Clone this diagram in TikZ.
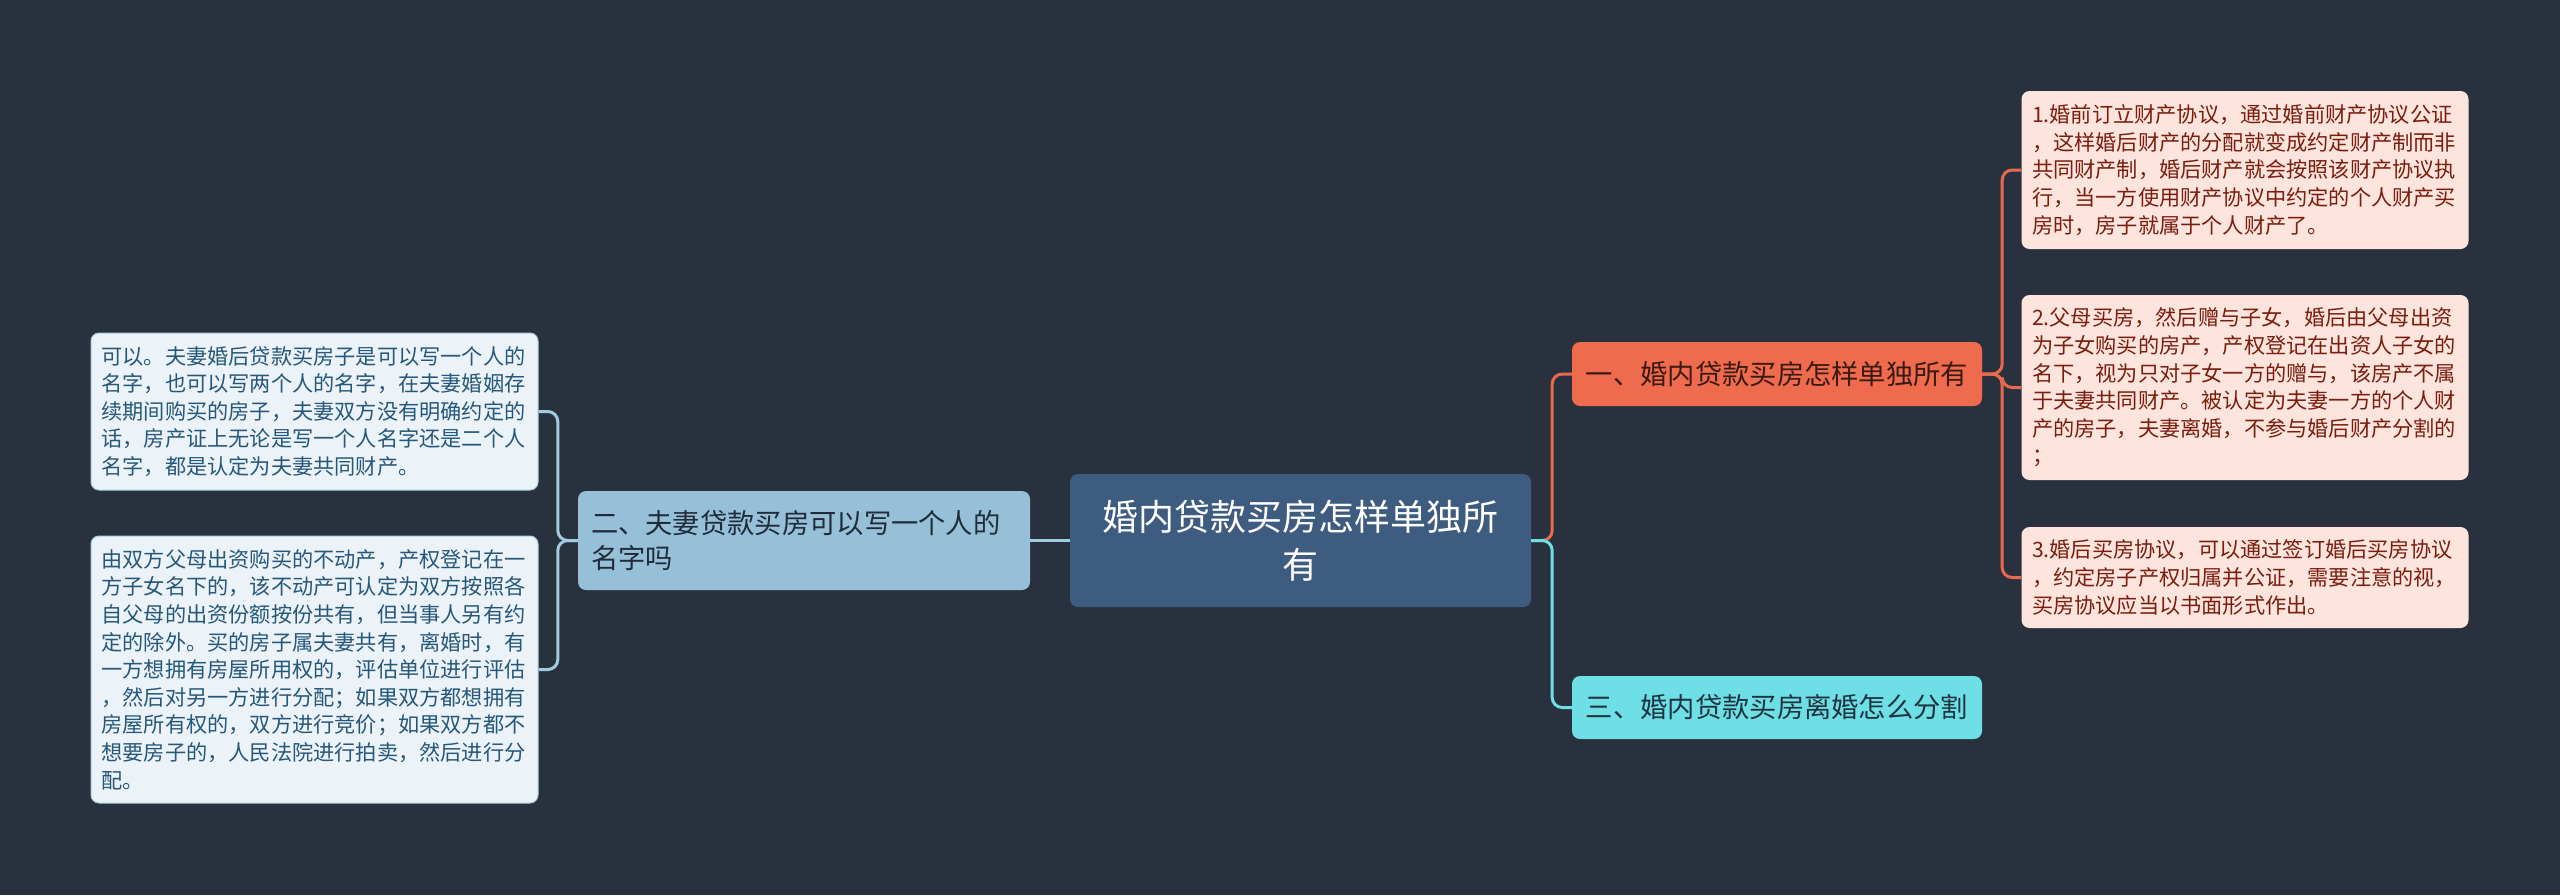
\documentclass[tikz,border=0pt]{standalone}
\usepackage{fontspec}
\setmainfont{Noto Sans CJK SC}
\definecolor{bg}{HTML}{29313F}
\definecolor{rootfill}{HTML}{3E5B80}
\definecolor{bluefill}{HTML}{96BFD8}
\definecolor{bluetext}{HTML}{1F2C3A}
\definecolor{leafLfill}{HTML}{ECF3F8}
\definecolor{leafLdraw}{HTML}{A9CDE2}
\definecolor{leafLtext}{HTML}{25587A}
\definecolor{orangefill}{HTML}{EE6B4D}
\definecolor{orangetext}{HTML}{3B1A12}
\definecolor{leafRfill}{HTML}{FDE4DD}
\definecolor{leafRtext}{HTML}{7A1D0E}
\definecolor{cyanfill}{HTML}{6DDFE5}
\definecolor{cyantext}{HTML}{1F3440}
\definecolor{connblue}{HTML}{9FCBE3}
\definecolor{connorange}{HTML}{E9694C}
\definecolor{conncyan}{HTML}{6DDFE5}
\begin{document}
\begin{tikzpicture}[x=1pt,y=-1pt,
  box/.style={rounded corners=8pt, inner ysep=0pt},
  leaf/.style={box, align=left, text width=426pt, inner xsep=10.5pt,
    font=\fontsize{21.2pt}{27.6pt}\selectfont},
  leafL/.style={leaf, fill=leafLfill, draw=leafLdraw, line width=1pt, text=leafLtext},
  leafR/.style={leaf, fill=leafRfill, text=leafRtext},
  rootbox/.style={box, fill=rootfill, text=white, align=center, text width=435pt,
    inner xsep=13pt, minimum height=133pt, font=\fontsize{36pt}{48pt}\selectfont},
  branch/.style={box, inner xsep=13pt, font=\fontsize{27.3pt}{35pt}\selectfont},
  conn/.style={line width=3pt, rounded corners=10pt}
]
\fill[bg] (0,0) rectangle (2560,895);
\useasboundingbox (0,0) rectangle (2560,895);

\node[rootbox] (root) at (1300.5,540.5) {婚内贷款买房怎样单独所\\有};

\node[branch, fill=bluefill, text=bluetext, align=left, text width=426pt, minimum height=99pt] (b2) at (804,540.5)
  {二、夫妻贷款买房可以写一个人的\\名字吗};
\node[branch, fill=orangefill, text=orangetext, minimum width=410pt, minimum height=64pt] (b1) at (1777,374)
  {一、婚内贷款买房怎样单独所有};
\node[branch, fill=cyanfill, text=cyantext, minimum width=410pt, minimum height=63pt] (b3) at (1777,707.5)
  {三、婚内贷款买房离婚怎么分割};

\node[leafL, minimum height=157pt] (l1) at (314.5,411.5)
  {可以。夫妻婚后贷款买房子是可以写一个人的\\名字，也可以写两个人的名字，在夫妻婚姻存\\续期间购买的房子，夫妻双方没有明确约定的\\话，房产证上无论是写一个人名字还是二个人\\名字，都是认定为夫妻共同财产。};
\node[leafL, minimum height=267pt] (l2) at (314.5,669.5)
  {由双方父母出资购买的不动产，产权登记在一\\方子女名下的，该不动产可认定为双方按照各\\自父母的出资份额按份共有，但当事人另有约\\定的除外。买的房子属夫妻共有，离婚时，有\\一方想拥有房屋所用权的，评估单位进行评估\\，然后对另一方进行分配；如果双方都想拥有\\房屋所有权的，双方进行竞价；如果双方都不\\想要房子的，人民法院进行拍卖，然后进行分\\配。};

\node[leafR, minimum height=158pt] (r1) at (2245,170)
  {1.婚前订立财产协议，通过婚前财产协议公证\\，这样婚后财产的分配就变成约定财产制而非\\共同财产制，婚后财产就会按照该财产协议执\\行，当一方使用财产协议中约定的个人财产买\\房时，房子就属于个人财产了。};
\node[leafR, minimum height=185pt] (r2) at (2245,387.5)
  {2.父母买房，然后赠与子女，婚后由父母出资\\为子女购买的房产，产权登记在出资人子女的\\名下，视为只对子女一方的赠与，该房产不属\\于夫妻共同财产。被认定为夫妻一方的个人财\\产的房子，夫妻离婚，不参与婚后财产分割的\\；};
\node[leafR, minimum height=101pt] (r3) at (2245,577.5)
  {3.婚后买房协议，可以通过签订婚后买房协议\\，约定房子产权归属并公证，需要注意的视，\\买房协议应当以书面形式作出。};

% connectors
\draw[conn, connblue] (root.west) -- (b2.east);
\draw[conn, connblue] (b2.west) -- ++(-20,0) |- (l1.east);
\draw[conn, connblue] (b2.west) -- ++(-20,0) |- (l2.east);
\draw[conn, connorange] (root.east) -- ++(21,0) |- (b1.west);
\draw[conn, conncyan] (root.east) -- ++(21,0) |- (b3.west);
\draw[conn, connorange] (b1.east) -- ++(20,0) |- (r1.west);
\draw[conn, connorange] (b1.east) -- ++(20,0) |- (r2.west);
\draw[conn, connorange] (b1.east) -- ++(20,0) |- (r3.west);
\end{tikzpicture}
\end{document}
